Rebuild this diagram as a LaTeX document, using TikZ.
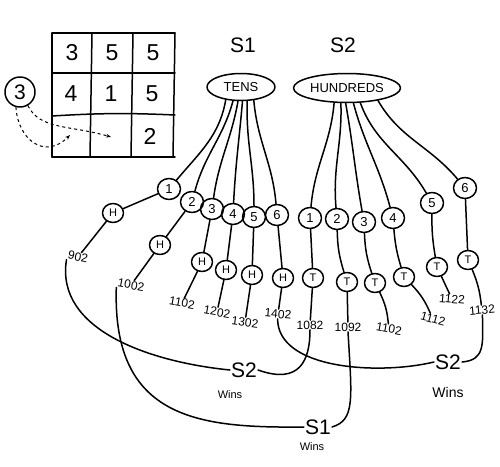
\documentclass[tikz,border=0pt]{standalone}
\usepackage{fontspec}
\setmainfont{Liberation Sans}
\usetikzlibrary{shapes.geometric,arrows.meta}
\tikzset{
  ln/.style={line width=1.5pt, line cap=round, line join=round},
  lvl/.style={ellipse, draw, ln, inner sep=0.5pt, minimum width=23pt, minimum height=21pt, font=\fontsize{13}{13}\selectfont},
  leaf/.style={ellipse, draw, ln, inner sep=0.5pt, minimum width=21pt, minimum height=19pt, font=\fontsize{11}{11}\selectfont},
  num/.style={inner sep=0.5pt, font=\fontsize{12}{12}\selectfont},
  big/.style={inner sep=1pt, font=\fontsize{23}{23}\selectfont},
  lab/.style={inner sep=1pt, font=\fontsize{21}{21}\selectfont},
  wins/.style={inner sep=1pt, font=\fontsize{11}{11}\selectfont},
  root/.style={ellipse, draw, ln, inner sep=1pt, font=\fontsize{13}{13}\selectfont},
  con/.style={draw, ln},
  dsh/.style={draw, line width=1pt, dashed, -{Stealth[length=5pt]}}
}
\begin{document}
\begin{tikzpicture}[x=1pt,y=1pt]
\useasboundingbox (0,0) rectangle (500,-466);
% grid
\draw[ln] (52,-33) -- (175,-33);
\draw[ln] (52,-73) -- (175,-73);
\draw[ln] (52,-116) to[bend left=3] (175,-115);
\draw[ln] (52,-157) -- (175,-157);
\draw[ln] (52,-33) -- (52,-157);
\draw[ln] (92,-33) -- (90,-157);
\draw[ln] (133,-33) -- (131,-157);
\draw[ln] (175,-33) -- (173,-157);
\node[big] (g11) at (72,-53) {3};
\node[big] (g12) at (112,-53) {5};
\node[big] (g13) at (153,-53) {5};
\node[big] (g21) at (71,-94) {4};
\node[big] (g22) at (111,-94) {1};
\node[big] (g23) at (152,-94) {5};
\node[big] (g33) at (150,-136) {2};
% circled 3
\node[circle, draw, ln, minimum size=30pt, inner sep=0pt, font=\fontsize{21}{21}\selectfont] (c3) at (20,-92) {3};
\coordinate (d1) at (70,-135);
\coordinate (d2) at (111,-137);
\draw[dsh] (c3.255) .. controls (18,-140) and (45,-160) .. (d1);
\draw[dsh] (c3.300) .. controls (40,-130) and (70,-125) .. (d2);
% labels
\node[lab] (s1) at (243,-45) {S1};
\node[lab] (s2) at (343,-45) {S2};
% roots
\node[root, minimum width=68pt, minimum height=27pt] (tens) at (241,-87) {TENS};
\node[root, minimum width=93pt, minimum height=29pt] (hund) at (347,-88) {HUNDREDS};
% level 1 left
\node[lvl] (l1) at (169,-189) {1};
\node[lvl] (l2) at (192,-202) {2};
\node[lvl] (l3) at (212,-209) {3};
\node[lvl] (l4) at (233,-214) {4};
\node[lvl] (l5) at (254,-217) {5};
\node[lvl] (l6) at (277,-215) {6};
% level 1 right
\node[lvl] (r1) at (310,-218) {1};
\node[lvl] (r2) at (337,-219) {2};
\node[lvl] (r3) at (364,-222) {3};
\node[lvl] (r4) at (393,-218) {4};
\node[lvl] (r5) at (432,-203) {5};
\node[lvl] (r6) at (465,-188) {6};
% H nodes
\node[leaf] (h1) at (113,-213) {H};
\node[leaf] (h2) at (160,-245) {H};
\node[leaf] (h3) at (202,-262) {H};
\node[leaf] (h4) at (226,-270) {H};
\node[leaf] (h5) at (252,-275) {H};
\node[leaf] (h6) at (283,-278) {H};
% T nodes
\node[leaf] (t1) at (313,-278) {T};
\node[leaf] (t2) at (347,-282) {T};
\node[leaf] (t3) at (375,-283) {T};
\node[leaf] (t4) at (404,-277) {T};
\node[leaf] (t5) at (437,-267) {T};
\node[leaf] (t6) at (468,-260) {T};
% numbers
\node[num, rotate=-12] (n902) at (78,-257) {902};
\node[num, rotate=-10] (n1002) at (131,-285) {1002};
\node[num, rotate=-10] (n1102a) at (182,-303) {1102};
\node[num, rotate=-10] (n1202) at (217,-312) {1202};
\node[num, rotate=-8] (n1302) at (245,-322) {1302};
\node[num, rotate=-5] (n1402) at (278,-314) {1402};
\node[num] (n1082) at (310,-325) {1082};
\node[num] (n1092) at (348,-327) {1092};
\node[num, rotate=-10] (n1102b) at (389,-329) {1102};
\node[num, rotate=-15] (n1112) at (433,-319) {1112};
\node[num, rotate=-5] (n1122) at (452,-299) {1122};
\node[num, rotate=5] (n1132) at (482,-310) {1132};
% outcome labels
\node[lab] (w1) at (244,-370) {S2};
\node[wins] (w1t) at (230,-395) {Wins};
\node[lab] (w2) at (448,-362) {S2};
\node[wins, font=\fontsize{14}{14}\selectfont] (w2t) at (448,-392) {Wins};
\node[lab] (w3) at (318,-427) {S1};
\node[wins] (w3t) at (312,-447) {Wins};
% root to level 1
\draw[con] (tens.220) to[out=-100,in=50] (l1);
\draw[con] (tens.240) to[out=-105,in=75] (l2);
\draw[con] (tens.258) to[out=-100,in=82] (l3);
\draw[con] (tens.276) to[out=-95,in=87] (l4);
\draw[con] (tens.294) to[out=-92,in=90] (l5);
\draw[con] (tens.314) to[out=-85,in=95] (l6);
\draw[con] (hund.229) to[out=-95,in=85] (r1);
\draw[con] (hund.248) to[out=-88,in=95] (r2);
\draw[con] (hund.265) to[out=-80,in=100] (r3);
\draw[con] (hund.293) to[out=-75,in=105] (r4);
\draw[con] (hund.312) to[out=-70,in=120] (r5);
\draw[con] (hund.338) to[out=-60,in=130] (r6);
% level 1 to leaves
\draw[con] (l1) -- (h1);
\draw[con] (l2) -- (h2);
\draw[con] (l3) -- (h3);
\draw[con] (l4) -- (h4);
\draw[con] (l5) -- (h5);
\draw[con] (l6) -- (h6);
\draw[con] (r1) -- (t1);
\draw[con] (r2) to[bend right=8] (t2);
\draw[con] (r3) to[bend right=8] (t3);
\draw[con] (r4) to[bend right=6] (t4);
\draw[con] (r5) to[bend right=5] (t5);
\draw[con] (r6) -- (t6);
% leaves to numbers
\draw[con] (h1) -- (n902);
\draw[con] (h2) -- (n1002);
\draw[con] (h3) -- (n1102a);
\draw[con] (h4) -- (n1202);
\draw[con] (h5) -- (n1302);
\draw[con] (h6) -- (n1402);
\draw[con] (t1) -- (n1082);
\draw[con] (t2) -- (n1092);
\draw[con] (t3) to[bend left=10] (n1102b);
\draw[con] (t4) to[bend left=10] (n1112);
\draw[con] (t5) -- (n1122);
\draw[con] (t6) to[bend left=8] (n1132);
% outcome curves
\draw[con] (n902.south west) .. controls (55,-330) and (150,-362) .. (w1.west);
\draw[con] (w1.east) .. controls (300,-385) and (310,-360) .. (n1082.south);
\draw[con] (n1402.south) .. controls (278,-370) and (380,-375) .. (w2.west);
\draw[con] (w2.east) .. controls (485,-360) and (483,-345) .. (n1132.south);
\draw[con] (n1002.south west) .. controls (112,-420) and (200,-428) .. (w3.west);
\draw[con] (w3.east) .. controls (355,-420) and (352,-400) .. (n1092.south);
\end{tikzpicture}
\end{document}
